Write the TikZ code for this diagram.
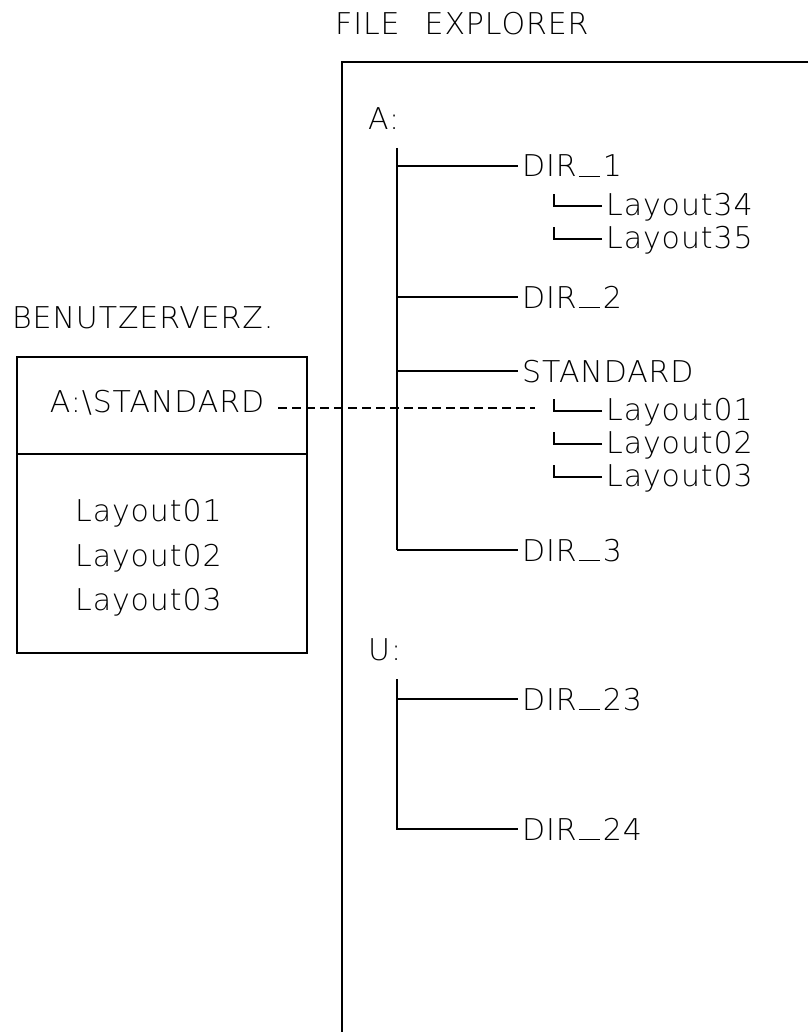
\documentclass[tikz,border=0pt]{standalone}
\usepackage{fontspec}
\setmainfont{DejaVuSans-ExtraLight.ttf}[LetterSpace=3]
\usetikzlibrary{positioning}
\tikzset{
  lbl/.style={
    inner sep = 0pt,
    font = \fontsize{30}{36}\selectfont
  },
  dir/.style={
    lbl,
    anchor = west,
    inner xsep = 4pt,
    text height = 22pt,
    text depth = 0pt
  },
  leaf/.style={
    lbl,
    anchor = west,
    inner xsep = 4pt,
    text height = 18pt,
    text depth = 0pt
  },
  wire/.style={
    line width = 1.1pt
  },
  dashline/.style={
    line width = 1.1pt,
    dash pattern = on 9pt off 5pt
  }
}
\newcommand{\us}{\kern2pt\rule{21pt}{0.9pt}\kern3pt}

\begin{document}
\begin{tikzpicture}[x=1pt, y=-1pt]
    \useasboundingbox (0,0) rectangle (808,1032);
    \def\trunk{397}
    \def\tip{518}
    \def\leafx{602}
    % explorer frame (open to the right and bottom)
    \draw[wire] (808,62) -- (342,62) -- (342,1032);
    \node[lbl, anchor=base west] (fetitle) at (335,35) {FILE\hspace{25pt}EXPLORER};
    % drive A
    \node[lbl, anchor=base west] (drivea) at (368,130) {A:};
    \coordinate (atop) at (\trunk,148);
    \node[dir] (dirone) at (\tip,166) {DIR\us 1};
    \node[dir] (dirtwo) at (\tip,297) {DIR\us 2};
    \node[dir] (dirstd) at (\tip,371) {STANDARD};
    \node[dir] (dirthree) at (\tip,550) {DIR\us 3};
    \draw[wire] (atop) -- (dirthree.west -| atop);
    \foreach \d in {dirone,dirtwo,dirstd,dirthree}
        \draw[wire] (\d.west -| atop) -- (\d.west);
    \node[leaf] (layA) at (\leafx,206) {Layout34};
    \node[leaf] (layB) at (\leafx,239) {Layout35};
    \node[leaf] (stdA) at (\leafx,411) {Layout01};
    \node[leaf] (stdB) at (\leafx,444) {Layout02};
    \node[leaf] (stdC) at (\leafx,477) {Layout03};
    \foreach \l in {layA,layB,stdA,stdB,stdC}
        \draw[wire] (\l.west) -- ++(-48,0) -- ++(0,-12);
    % drive U
    \node[lbl, anchor=base west] (driveu) at (368,660) {U:};
    \coordinate (utop) at (\trunk,679);
    \node[dir] (dirtwentythree) at (\tip,699) {DIR\us 23};
    \node[dir] (dirtwentyfour) at (\tip,829) {DIR\us 24};
    \draw[wire] (utop) -- (dirtwentyfour.west -| utop) -- (dirtwentyfour.west);
    \draw[wire] (dirtwentythree.west -| utop) -- (dirtwentythree.west);
    % user directory box
    \node[lbl, anchor=base west] (udtitle) at (12,328) {BENUTZERVERZ.};
    \draw[wire] (17,357) rectangle (307,653);
    \draw[wire] (17,454) -- (307,454);
    \node[lbl, anchor=base] (stdpath) at (157,412) {A:\textbackslash STANDARD};
    \coordinate (dashend) at (535,408);
    \draw[dashline] (stdpath.east |- dashend) ++(14,0) -- (dashend);
    \node[lbl, anchor=base west] (boxA) at (75,521) {Layout01};
    \node[lbl, anchor=base west] (boxB) at (75,566) {Layout02};
    \node[lbl, anchor=base west] (boxC) at (75,610) {Layout03};
\end{tikzpicture}
\end{document}
